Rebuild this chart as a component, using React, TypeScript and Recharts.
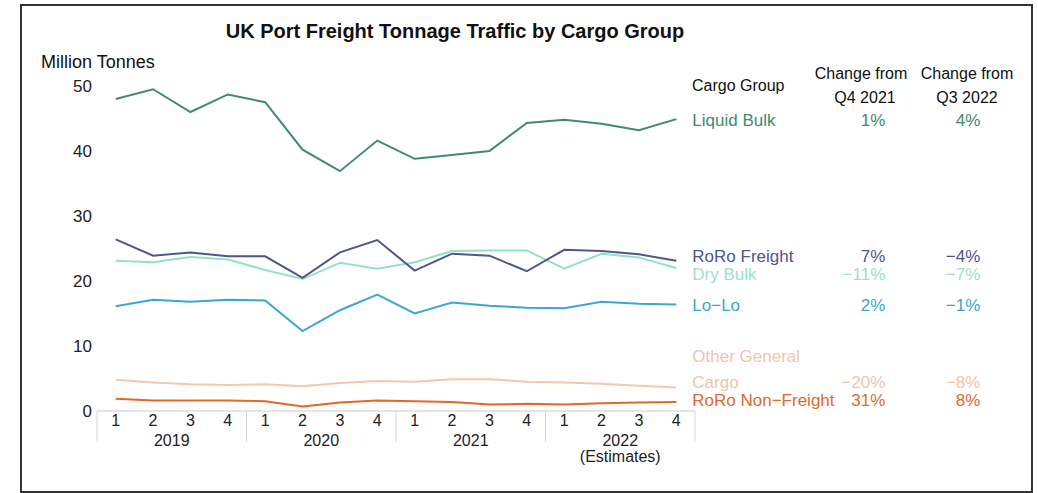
import { LineChart, Line, XAxis, YAxis } from 'recharts'

const years = ['2019', '2020', '2021', '2022']
const quarterLabels = ['1', '2', '3', '4']
const yTicks = [0, 10, 20, 30, 40, 50]

const liquidBulk = [48.0, 49.5, 46.0, 48.7, 47.5, 40.2, 36.9, 41.6, 38.8, 39.4, 40.0, 44.3, 44.8, 44.2, 43.2, 44.9]
const roroFreight = [26.4, 23.9, 24.4, 23.8, 23.8, 20.5, 24.4, 26.3, 21.6, 24.2, 23.9, 21.5, 24.8, 24.6, 24.1, 23.1]
const dryBulk = [23.1, 22.9, 23.7, 23.3, 21.7, 20.3, 22.8, 21.9, 22.9, 24.6, 24.7, 24.7, 21.9, 24.2, 23.6, 22.0]
const loLo = [16.1, 17.1, 16.8, 17.1, 17.0, 12.3, 15.5, 17.9, 15.0, 16.7, 16.2, 15.9, 15.8, 16.8, 16.5, 16.4]
const otherGeneralCargo = [4.8, 4.4, 4.1, 4.0, 4.1, 3.8, 4.3, 4.6, 4.5, 4.9, 4.9, 4.5, 4.4, 4.2, 3.9, 3.6]
const roroNonFreight = [1.9, 1.6, 1.6, 1.6, 1.5, 0.7, 1.3, 1.6, 1.5, 1.4, 1.0, 1.1, 1.0, 1.2, 1.3, 1.4]

const groupNames = [['Liquid Bulk'], ['RoRo Freight'], ['Dry Bulk'], ['Lo−Lo'], ['Other General', 'Cargo'], ['RoRo Non−Freight']]
const changeFromQ4 = ['1%', '7%', '−11%', '2%', '−20%', '31%']
const changeFromQ3 = ['4%', '−4%', '−7%', '−1%', '−8%', '8%']

// order of drawing (bottom first) -> index into groupNames
const series = [
  { key: 'otherGeneralCargo', group: 4, stroke: '#f3c8ae', text: '#f0c5ab', dy: -6 },
  { key: 'roroNonFreight', group: 5, stroke: '#e2682a', text: '#e06a2c', dy: -2 },
  { key: 'loLo', group: 3, stroke: '#3ba6d7', text: '#3aa5d5', dy: 1 },
  { key: 'dryBulk', group: 2, stroke: '#92e2c4', text: '#9de2c6', dy: 6 },
  { key: 'roroFreight', group: 1, stroke: '#50548f', text: '#50548f', dy: -5 },
  { key: 'liquidBulk', group: 0, stroke: '#3e8b6f', text: '#3e8b6f', dy: 1 },
]

const data = liquidBulk.map((_, i) => ({
  t: i,
  liquidBulk: liquidBulk[i],
  roroFreight: roroFreight[i],
  dryBulk: dryBulk[i],
  loLo: loLo[i],
  otherGeneralCargo: otherGeneralCargo[i],
  roroNonFreight: roroNonFreight[i],
}))

const lastIndex = data.length - 1

// quarter positions, year centres and group separators on one axis
const xTicks: number[] = []
years.forEach((_, yi) => {
  xTicks.push(yi * 4 - 0.5)
  quarterLabels.forEach((_, qi) => xTicks.push(yi * 4 + qi))
  xTicks.push(yi * 4 + 1.5)
})
xTicks.push(years.length * 4 - 0.5)
xTicks.sort((a, b) => a - b)

const FONT = '"Liberation Sans", Arial, sans-serif'

function PeriodTick({ x, y, payload }: any) {
  const v = payload.value as number
  if (Number.isInteger(v)) {
    return (
      <text x={x} y={y + 9} dy="0.35em" textAnchor="middle" fontSize={16} fill="#222">
        {quarterLabels[v % 4]}
      </text>
    )
  }
  if ((v - 1.5) % 4 === 0) {
    const yi = (v - 1.5) / 4
    return (
      <g>
        <text x={x} y={y + 29} dy="0.35em" textAnchor="middle" fontSize={16} fill="#222">
          {years[yi]}
        </text>
        {yi === years.length - 1 && (
          <text x={x} y={y + 45} dy="0.35em" textAnchor="middle" fontSize={16} fill="#222">
            (Estimates)
          </text>
        )}
      </g>
    )
  }
  return <line x1={x} x2={x} y1={y} y2={y + 31} stroke="#d6d6d6" strokeWidth={1} />
}

function makeEndLabel(s: (typeof series)[number]) {
  return (props: any) => {
    const { cx, cy, index } = props
    if (index !== lastIndex) return <g key={`d-${s.key}-${index}`} />
    const names = groupNames[s.group]
    const base = cy + s.dy
    return (
      <g key={`d-${s.key}-${index}`} fontSize={17} fill={s.text}>
        {names.map((n, i) => (
          <text key={n} x={cx + 16} y={base - (names.length - 1 - i) * 26} dy="0.35em" textAnchor="start">
            {n}
          </text>
        ))}
        <text x={cx + 209} y={base} dy="0.35em" textAnchor="end">
          {changeFromQ4[s.group]}
        </text>
        <text x={cx + 304} y={base} dy="0.35em" textAnchor="end">
          {changeFromQ3[s.group]}
        </text>
      </g>
    )
  }
}

const headStyle = {
  position: 'absolute' as const,
  width: 130,
  textAlign: 'center' as const,
  fontSize: 16,
  lineHeight: '18px',
  color: '#111',
}

export default function App() {
  return (
    <div style={{ position: 'absolute', left: 0, top: 0, width: 1038, height: 493, background: '#fff', fontFamily: FONT, overflow: 'hidden' }}>
      <div
        style={{
          position: 'absolute',
          left: 20,
          top: 4,
          width: 1013,
          height: 489,
          border: '2px solid #333',
          boxSizing: 'border-box',
        }}
      />
      <div style={{ position: 'absolute', left: 155, width: 600, top: 20, textAlign: 'center', fontWeight: 'bold', fontSize: 20, lineHeight: '22px', color: '#111' }}>
        UK Port Freight Tonnage Traffic by Cargo Group
      </div>
      <div style={{ position: 'absolute', left: 41, top: 52, fontSize: 18, lineHeight: '20px', color: '#111' }}>Million Tonnes</div>
      <div style={{ position: 'absolute', left: 692, top: 77, fontSize: 16, lineHeight: '18px', color: '#111' }}>Cargo Group</div>
      <div style={{ ...headStyle, left: 861 - 65, top: 65 }}>Change from</div>
      <div style={{ ...headStyle, left: 865 - 65, top: 89 }}>Q4 2021</div>
      <div style={{ ...headStyle, left: 967 - 65, top: 65 }}>Change from</div>
      <div style={{ ...headStyle, left: 967 - 65, top: 89 }}>Q3 2022</div>

      <div style={{ position: 'absolute', left: 0, top: 0 }}>
        <LineChart width={1038} height={493} data={data} margin={{ top: 86, right: 343, bottom: 22, left: 0 }}>
          <YAxis
            type="number"
            domain={[0, 50]}
            ticks={yTicks}
            width={97}
            axisLine={false}
            tickLine={false}
            tickSize={3}
            tickMargin={2}
            tick={{ fill: '#222', fontSize: 17 }}
          />
          <XAxis
            dataKey="t"
            type="number"
            domain={[-0.5, 15.5]}
            ticks={xTicks}
            interval={0}
            height={60}
            tickLine={false}
            tickSize={0}
            tickMargin={0}
            axisLine={{ stroke: '#cccccc' }}
            tick={<PeriodTick />}
          />
          {series.map((s) => (
            <Line
              key={s.key}
              type="linear"
              dataKey={s.key}
              stroke={s.stroke}
              strokeWidth={2}
              dot={makeEndLabel(s)}
              activeDot={false}
              isAnimationActive={false}
            />
          ))}
        </LineChart>
      </div>
    </div>
  )
}
